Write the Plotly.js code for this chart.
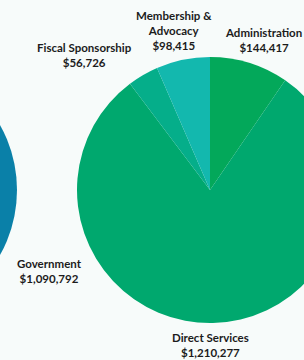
<!DOCTYPE html>
<html>
<head>
<meta charset="utf-8">
<script src="https://cdn.plot.ly/plotly-3.0.1.min.js"></script>
<style>
html,body{margin:0;padding:0;width:304px;height:360px;overflow:hidden;background:#f7fbfa;}
#wrap{position:absolute;left:-260px;top:0;width:620px;height:360px;}
</style>
</head>
<body>
<div id="wrap"></div>
<script>
// Expenses (right pie)
const expenseLabels = ["Administration", "Direct Services", "Fiscal Sponsorship", "Membership & Advocacy"];
const expenseValues = [144417, 1210277, 56726, 98415];
const expenseColors = ["#03a85a", "#00a86e", "#05ae8a", "#13b8ae"];
// Revenue (left pie, mostly cropped)
const revenueLabels = ["Government"];
const revenueValues = [1090792];
const revenueColors = ["#0a80a8"];

const W = 620, H = 360, L = 260;
const px = x => (x + L) / W;
const py = y => 1 - y / H;

// label anchor positions (page pixels), layout only
const expLabelPos = [[263, 40], [210, 345], [85, 55], [174, 30]];
const revLabelPos = [[49, 271]];

function fmt(v){ return "$" + v.toLocaleString("en-US"); }
function labelText(name, v){
  const parts = name === "Membership & Advocacy" ? ["Membership &", "Advocacy"] : [name];
  return parts.concat([fmt(v)]).map(s => "<b>" + s + "</b>").join("<br>");
}

const annotations = [];
expenseLabels.forEach((n, i) => annotations.push({
  x: px(expLabelPos[i][0]), y: py(expLabelPos[i][1]), xref: "paper", yref: "paper",
  text: labelText(n, expenseValues[i]), showarrow: false, xanchor: "center", yanchor: "middle",
  align: "center", font: {family: "Lato, sans-serif", size: 11.5, color: "#1c1c1c"}
}));
revenueLabels.forEach((n, i) => annotations.push({
  x: px(revLabelPos[i][0]), y: py(revLabelPos[i][1]), xref: "paper", yref: "paper",
  text: labelText(n, revenueValues[i]), showarrow: false, xanchor: "center", yanchor: "middle",
  align: "center", font: {family: "Lato, sans-serif", size: 11.5, color: "#1c1c1c"}
}));

const data = [
  {
    type: "pie", labels: revenueLabels, values: revenueValues,
    marker: {colors: revenueColors, line: {width: 0}},
    sort: false, direction: "clockwise", rotation: 0, textinfo: "none", hoverinfo: "none",
    domain: {x: [px(-249), px(17)], y: [py(323), py(57)]}
  },
  {
    type: "pie", labels: expenseLabels, values: expenseValues,
    marker: {colors: expenseColors, line: {width: 0}},
    sort: false, direction: "clockwise", rotation: 0, textinfo: "none", hoverinfo: "none",
    domain: {x: [px(77), px(343)], y: [py(323), py(57)]}
  }
];

const layout = {
  width: W, height: H, margin: {l: 0, r: 0, t: 0, b: 0},
  paper_bgcolor: "#f7fbfa", plot_bgcolor: "#f7fbfa",
  showlegend: false, annotations: annotations
};

Plotly.newPlot("wrap", data, layout, {displayModeBar: false, staticPlot: true});
</script>
</body>
</html>
